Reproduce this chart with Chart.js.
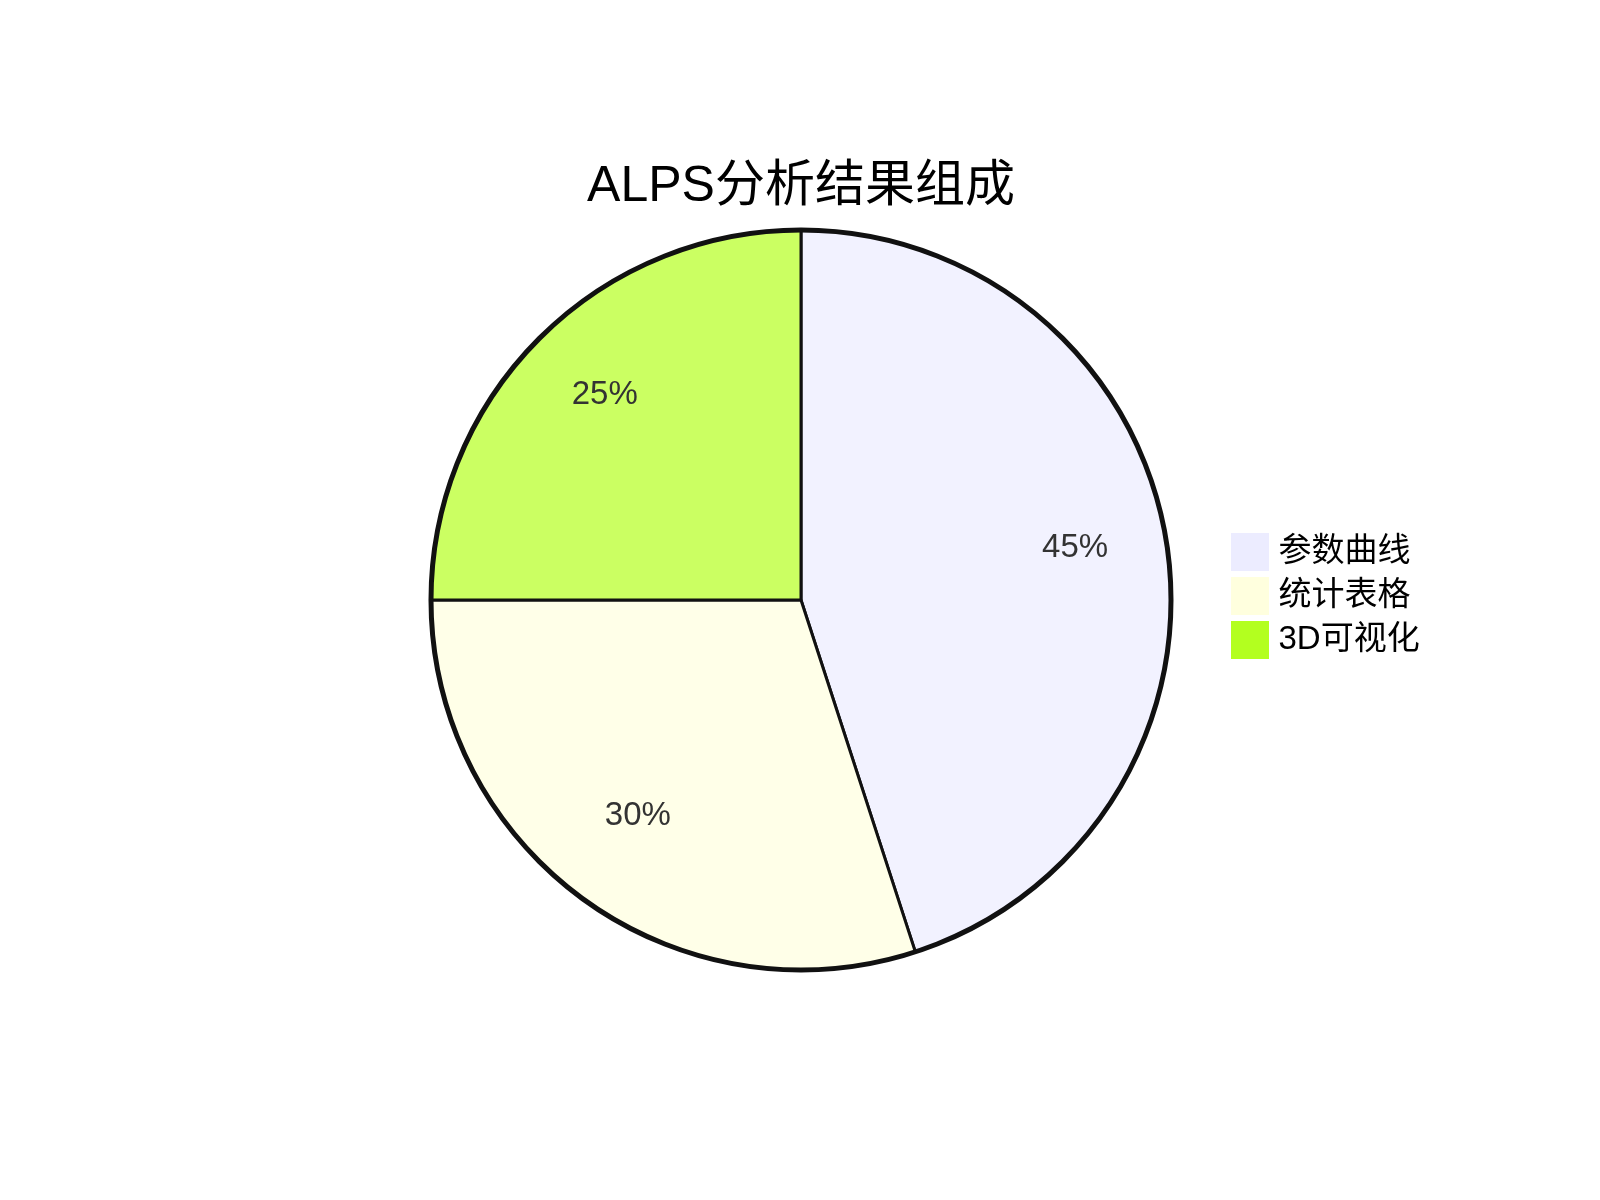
<!DOCTYPE html>
<html>
<head>
<meta charset="utf-8">
<title>ALPS分析结果组成</title>
<script src="https://cdn.jsdelivr.net/npm/chart.js@4.4.1/dist/chart.umd.min.js"></script>
<style>
  html, body { margin: 0; padding: 0; background: #ffffff; }
  #wrap { width: 1600px; height: 1200px; }
</style>
</head>
<body>
<div id="wrap"><canvas id="pieChart" width="1600" height="1200"></canvas></div>
<script>
const chartTitle = 'ALPS分析结果组成';
const categories = ['参数曲线', '统计表格', '3D可视化'];
const shares = [45, 30, 25];
const sliceColors = ['#F2F2FF', '#FFFFE8', '#CBFF62'];
const legendColors = ['#ECECFF', '#FFFFDE', '#B3FF1F'];

const latinCjk = '"Liberation Sans", Arial, "Noto Sans CJK SC", sans-serif';

// percentage labels at 3/4 of the radius, like the original
const sliceLabels = {
  id: 'sliceLabels',
  afterDatasetsDraw(chart) {
    const ctx = chart.ctx;
    const meta = chart.getDatasetMeta(0);
    const total = shares.reduce((s, v) => s + v, 0);
    ctx.save();
    ctx.font = '33px ' + latinCjk;
    ctx.fillStyle = '#333333';
    ctx.textAlign = 'center';
    ctx.textBaseline = 'middle';
    meta.data.forEach((arc, i) => {
      const p = arc.getProps(['x', 'y', 'startAngle', 'endAngle', 'outerRadius'], true);
      const mid = (p.startAngle + p.endAngle) / 2;
      const r = p.outerRadius * 0.75;
      const pct = Math.round(shares[i] / total * 100) + '%';
      ctx.fillText(pct, p.x + Math.cos(mid) * r, p.y + Math.sin(mid) * r - 9);
    });
    // heavier outline round the whole pie
    const a = meta.data[0];
    if (a) {
      ctx.beginPath();
      ctx.lineWidth = 5;
      ctx.strokeStyle = '#111111';
      ctx.arc(a.x, a.y, a.outerRadius, 0, Math.PI * 2);
      ctx.stroke();
    }
    ctx.restore();
  }
};

// fixed legend width so the pie stays centred on the page
const legendWidth = {
  id: 'legendWidth',
  beforeUpdate(chart) {
    const lg = chart.legend;
    if (lg && !lg._fixed) {
      const fit = lg.fit;
      lg.fit = function () {
        fit.call(this);
        this.width = 210;
      };
      lg._fixed = true;
    }
  },
  afterLayout(chart) {
    // nudge the legend column up a little
    const lg = chart.legend;
    if (lg) {
      lg.top -= 4;
      lg.bottom -= 4;
    }
  }
};

new Chart(document.getElementById('pieChart'), {
  type: 'pie',
  data: {
    labels: categories,
    datasets: [{
      data: shares,
      backgroundColor: sliceColors,
      borderColor: '#111111',
      borderWidth: 3,
      radius: 370
    }]
  },
  options: {
    responsive: false,
    devicePixelRatio: 1,
    animation: false,
    layout: {
      padding: { left: 375, right: 163, top: 140, bottom: 223 }
    },
    plugins: {
      title: {
        display: true,
        fullSize: false,
        text: chartTitle,
        color: '#000000',
        font: { size: 50, family: latinCjk, weight: 'normal', lineHeight: 1.2 },
        padding: { top: 17, bottom: 6 }
      },
      legend: {
        position: 'right',
        fullSize: false,
        labels: {
          color: '#111111',
          font: { size: 33, family: latinCjk },
          boxWidth: 24,
          boxHeight: 24,
          padding: 11,
          generateLabels(chart) {
            return categories.map((name, i) => ({
              text: name,
              fillStyle: legendColors[i],
              strokeStyle: legendColors[i],
              lineWidth: 14,
              hidden: false,
              index: i
            }));
          }
        }
      },
      tooltip: { enabled: false }
    }
  },
  plugins: [sliceLabels, legendWidth]
});
</script>
</body>
</html>
